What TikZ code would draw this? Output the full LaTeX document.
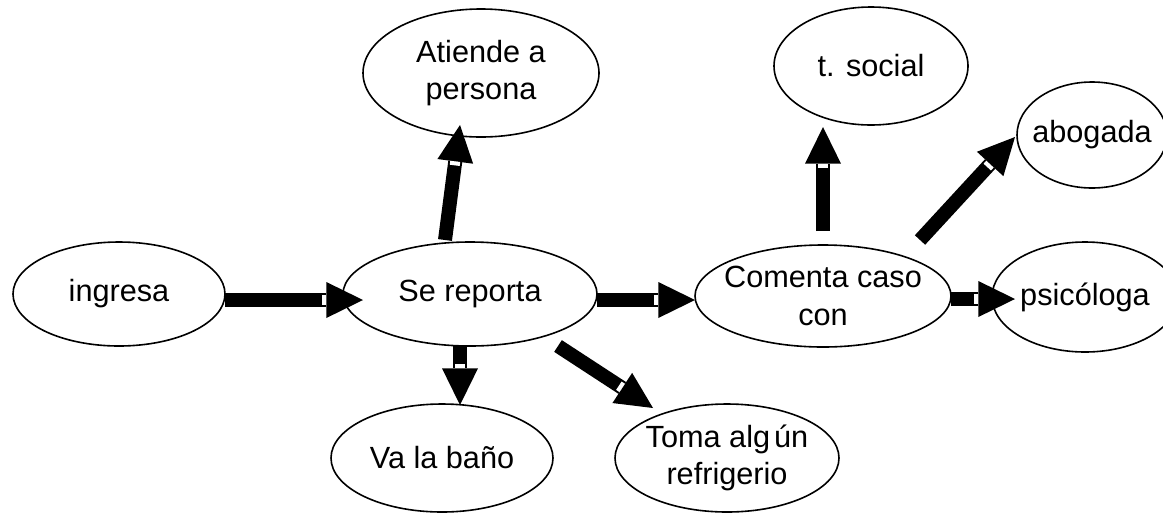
\documentclass[tikz,border=0pt]{standalone}
\usepackage{fontspec}
\setmainfont{Liberation Sans}
\usetikzlibrary{positioning,shapes,arrows.meta,calc,decorations.markings}
\tikzstyle{bubble} = [ellipse, draw, line width=1.2pt, inner xsep=-12pt, inner ysep=0pt, %
   text centered, align=center, font=\fontsize{23}{28}\selectfont]
\tikzstyle{line} = [draw, line width=10.5pt, -{Triangle[length=27.5pt,width=27pt,line width=0pt]}, %
   postaction={decorate, decoration={markings, mark=at position -29pt with %
   {\fill[white] (-1.5pt,-3.75pt) rectangle (1.5pt,3.75pt);}}}]

\begin{document}
\begin{tikzpicture}[x=0.75pt,y=-0.75pt]
   \useasboundingbox (0,0) rectangle (1163,515);

% Middle row %%%%%%%%%%%%%%%%%%%%%%%%%%%%%%%%%%%%%%%%%%%%%%%%%%%%%%%%%%
   \node[bubble, minimum width=159pt, minimum height=78pt] (ingresa) at (119,294) {ingresa};
   \node[bubble, minimum width=190.5pt, minimum height=78pt] (sereporta) at (470,294) {Se reporta};
   \node[bubble, minimum width=192pt, minimum height=76.5pt] (comenta) at (823,296) {Comenta caso\\con};
   \node[bubble, minimum width=139.5pt, minimum height=82.5pt] (psicologa) at (1085,297) {psicóloga};

% Around Se reporta %%%%%%%%%%%%%%%%%%%%%%%%%%%%%%%%%%%%%%%%%%%%%%%%%%%
   \node[bubble, minimum width=177pt, minimum height=96pt] (atiende) at (481,73) {Atiende a\\persona};
   \node[bubble, minimum width=166.5pt, minimum height=81pt] (bano) at (442,458) {Va la baño};
   \node[bubble, minimum width=168pt, minimum height=81pt] (toma) at (727,458) {Toma alg\kern3pt ún\\refrigerio};

% Around Comenta caso %%%%%%%%%%%%%%%%%%%%%%%%%%%%%%%%%%%%%%%%%%%%%%%%%
   \node[bubble, minimum width=145.5pt, minimum height=88.5pt] (tsocial) at (871,66) {t. social};
   \node[bubble, minimum width=112.5pt, minimum height=79.5pt] (abogada) at (1092,135) {abogada};

   % Draw edges
   % Main row
   \path [line] ($(ingresa.center)+(106,6)$) -- ($(sereporta.center)+(-107,6)$);
   \path [line] ($(sereporta.center)+(127,6)$) -- ($(comenta.center)+(-128,4)$);
   \path [line] ($(comenta.center)+(128,3)$) -- ($(psicologa.center)+(-70,2)$);

   % Branches of Se reporta
   \path [line] ($(sereporta.center)+(-25,-54)$) -- ($(atiende.center)+(-21,52)$);
   \path [line] ($(sereporta.center)+(-10,52)$) -- ($(bano.center)+(18,-53)$);
   \path [line] ($(sereporta.center)+(88,52)$) -- ($(toma.center)+(-74,-50)$);

   % Branches of Comenta caso
   \path [line] ($(comenta.center)+(0,-65)$) -- ($(tsocial.center)+(-48,61)$);
   \path [line] ($(comenta.center)+(97,-56)$) -- ($(abogada.center)+(-77,2)$);

\end{tikzpicture}
\end{document}
